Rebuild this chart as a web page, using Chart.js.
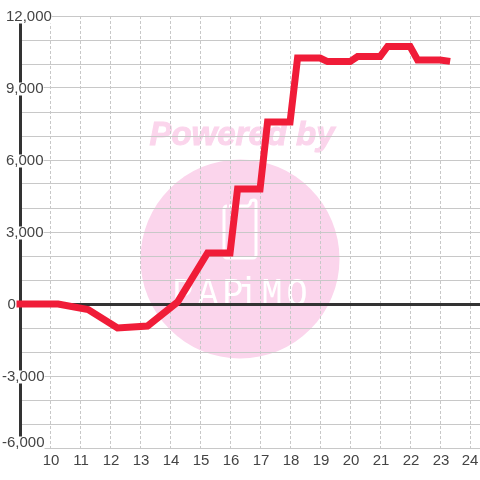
<!DOCTYPE html>
<html>
<head>
<meta charset="utf-8">
<style>html,body{margin:0;padding:0;background:#fff}#w{position:relative;width:480px;height:480px}</style>
<script src="https://cdn.jsdelivr.net/npm/chart.js@4"></script>
</head>
<body>
<div id="w"><canvas id="c" width="480" height="480"></canvas></div>
<script>
const hours = [9, 10.27, 11.27, 12.25, 13.25, 14.25, 15.25, 16, 16.25, 17, 17.25, 18, 18.25, 19, 19.25, 20, 20.25, 21, 21.25, 22, 22.25, 23, 23.22];
const values = [0, 0, -230, -1000, -920, 80, 2125, 2125, 4790, 4790, 7580, 7580, 10250, 10250, 10100, 10100, 10310, 10310, 10730, 10730, 10170, 10170, 10130];
const xTicks = [10, 11, 12, 13, 14, 15, 16, 17, 18, 19, 20, 21, 22, 23, 24];
const yLabels = [12000, 9000, 6000, 3000, 0, -3000, -6000];
const watermarkTitle = 'Powered by';
const watermarkLetters = ['P', 'A', 'P', 'i', 'M', 'O'];
const letterCenters = [183, 208, 233, 248, 272, 297];

const FONT = '15px "Liberation Sans", Arial, sans-serif';
const TEXT = '#444444';

const watermark = {
  id: 'watermark',
  beforeDraw(chart) {
    const c = chart.ctx;
    c.save();
    c.fillStyle = '#fbd5ec';
    c.beginPath();
    c.arc(240, 259, 99.5, 0, Math.PI * 2);
    c.fill();
    c.font = 'italic bold 33px "Liberation Sans", Arial, sans-serif';
    c.textAlign = 'center';
    c.textBaseline = 'alphabetic';
    c.strokeStyle = '#fbd5ec';
    c.lineWidth = 1;
    c.strokeText(watermarkTitle, 242, 145);
    c.fillText(watermarkTitle, 242, 145);
    c.strokeStyle = '#fff';
    c.lineWidth = 3;
    c.lineJoin = 'round';
    c.beginPath();
    c.moveTo(229, 206);
    c.lineTo(248, 206);
    c.lineTo(250, 204);
    c.arcTo(251, 200, 256, 201, 2);
    c.lineTo(254, 200);
    c.arcTo(256, 200, 256, 204, 2);
    c.lineTo(256, 254);
    c.arcTo(256, 258, 252, 258, 3);
    c.lineTo(228, 258);
    c.arcTo(224, 258, 224, 254, 3);
    c.lineTo(224, 210);
    c.arcTo(224, 206, 229, 206, 3);
    c.stroke();
    c.fillStyle = '#fff';
    watermarkLetters.forEach((l, i) => {
      c.save();
      c.translate(letterCenters[i], 306);
      c.scale(1.3, 1.5);
      c.font = '27px "Liberation Mono", monospace';
      c.textAlign = 'center';
      c.fillText(l, 0, 0);
      c.restore();
    });
    c.restore();
  }
};

const axisLabels = {
  id: 'axisLabels',
  beforeDatasetsDraw(chart) {
    const c = chart.ctx, y = chart.scales.y, x = chart.scales.x;
    c.save();
    c.font = FONT;
    c.textBaseline = 'middle';
    yLabels.forEach(v => {
      const s = v.toLocaleString('en-US');
      const w = c.measureText(s).width;
      const left = v < 0 ? 2 : (v === 0 ? 7.5 : 6);
      const py = y.getPixelForValue(v) + (v === -6000 ? -6 : 0);
      c.fillStyle = '#fff';
      c.fillRect(left, py - 5.5, w, 13);
      c.fillStyle = TEXT;
      c.textAlign = 'left';
      c.fillText(s, left, py + 1);
    });
    c.textAlign = 'center';
    c.fillStyle = TEXT;
    xTicks.forEach(v => c.fillText(String(v), x.getPixelForValue(v) + (v === 24 ? 0 : 1), 461));
    c.restore();
  }
};

new Chart(document.getElementById('c'), {
  type: 'line',
  data: {
    labels: hours,
    datasets: [{
      data: hours.map((h, i) => ({ x: h, y: values[i] })),
      borderColor: '#f01c38',
      borderWidth: 7,
      pointRadius: 0,
      tension: 0,
      fill: false,
      clip: false,
      borderCapStyle: 'square',
      borderJoinStyle: 'miter'
    }]
  },
  options: {
    responsive: false,
    animation: false,
    events: [],
    layout: { padding: { left: 20, top: 16, right: 0, bottom: 32 } },
    plugins: { legend: { display: false }, tooltip: { enabled: false }, title: { display: false } },
    scales: {
      x: {
        type: 'linear',
        min: 9,
        max: 24.33,
        afterBuildTicks(s) { s.ticks = xTicks.map(value => ({ value })); },
        afterFit(s) { s.height = 0; s.paddingLeft = 0; s.paddingRight = 0; },
        ticks: { display: false },
        border: { display: false, dash: [3, 2] },
        grid: { color: '#c8c8c8', lineWidth: 1, drawTicks: false }
      },
      y: {
        min: -6000,
        max: 12000,
        afterBuildTicks(s) {
          const t = [];
          for (let v = -6000; v <= 12000; v += 1000) t.push({ value: v });
          s.ticks = t;
        },
        afterFit(s) { s.width = 0; s.paddingTop = 0; s.paddingBottom = 0; },
        ticks: { display: false },
        border: { display: true, color: '#333333', width: 3 },
        grid: {
          drawTicks: false,
          color: ctx => ctx.tick && ctx.tick.value === 0 ? '#333333' : '#c8c8c8',
          lineWidth: ctx => ctx.tick && ctx.tick.value === 0 ? 3 : 1
        }
      }
    }
  },
  plugins: [watermark, axisLabels]
});
</script>
</body>
</html>
